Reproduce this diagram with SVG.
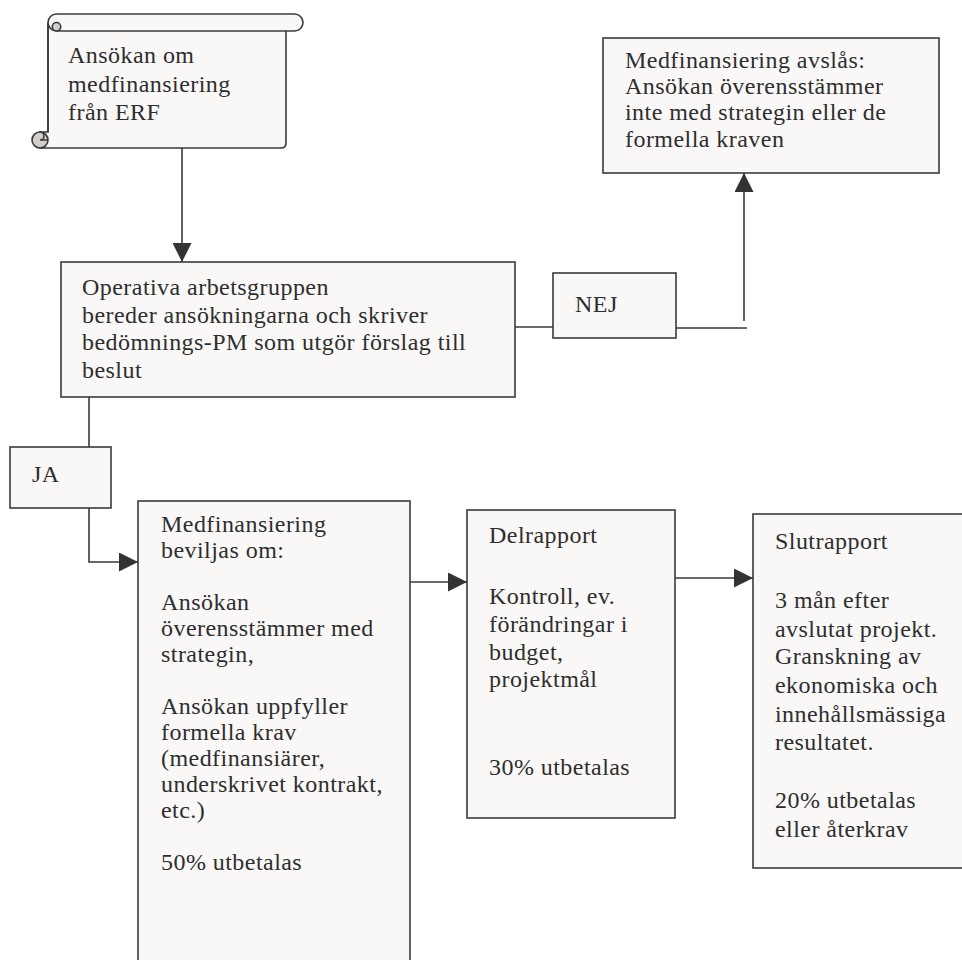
<svg xmlns="http://www.w3.org/2000/svg" width="962" height="960" viewBox="0 0 962 960">
<style>
.box{fill:#f9f8f7;stroke:#3a3a3a;stroke-width:1.6}
.curl{fill:#d3cfcb;stroke:#3a3a3a;stroke-width:1.6}
.ln{fill:none;stroke:#3a3a3a;stroke-width:1.6}
text{font-family:"Liberation Serif","Times New Roman",serif;font-size:24px;fill:#2e2e2e;letter-spacing:0.45px}
</style>
<defs>
<marker id="ah" viewBox="0 0 19 19" markerWidth="19" markerHeight="19" refX="19" refY="9.5" orient="auto" markerUnits="userSpaceOnUse">
<path d="M0,0 L19,9.5 L0,19 Z" fill="#333"/>
</marker>
</defs>
<rect width="962" height="960" fill="#fff"/>
<g id="connectors">
<line class="ln" x1="182" y1="148" x2="182" y2="262" marker-end="url(#ah)"/>
<line class="ln" x1="515" y1="327" x2="553" y2="327"/>
<line class="ln" x1="676" y1="328" x2="747" y2="328"/>
<line class="ln" x1="744" y1="321" x2="744" y2="173" marker-end="url(#ah)"/>
<line class="ln" x1="89" y1="397" x2="89" y2="447"/>
<polyline class="ln" points="89,508 89,562 138,562" marker-end="url(#ah)"/>
<line class="ln" x1="410" y1="582" x2="467" y2="582" marker-end="url(#ah)"/>
<line class="ln" x1="675" y1="578" x2="753" y2="578" marker-end="url(#ah)"/>
</g>
<g id="ansokan">
<path class="box" d="M48,25 L286,25 L286,143 Q286,148 281,148 L40,148 L40,132 L48,132 Z"/>
<circle class="curl" cx="40" cy="140" r="8"/>
<path class="ln" d="M40,132 A4,4 0 0 1 40,140 L48,140"/>
<rect class="box" x="48" y="14" width="255" height="17" rx="8.5"/>
<path class="curl" d="M56.5,22.5 A4.2,4.2 0 0 1 56.5,31 A4.2,4.2 0 0 1 56.5,22.5 Z"/>
<path class="ln" d="M48,22.5 L48,132"/>
<text x="68" y="63">Ansökan om</text>
<text x="68" y="91.5">medfinansiering</text>
<text x="68" y="120">från ERF</text>
</g>
<g id="operativa">
<rect class="box" x="61" y="262" width="454" height="135"/>
<text x="82" y="295">Operativa arbetsgruppen</text>
<text x="82" y="323">bereder ansökningarna och skriver</text>
<text x="82" y="350">bedömnings-PM som utgör förslag till</text>
<text x="82" y="378">beslut</text>
</g>
<g id="nej">
<rect class="box" x="553" y="273" width="123" height="65"/>
<text x="575" y="312">NEJ</text>
</g>
<g id="avslas">
<rect class="box" x="603" y="38" width="336" height="135"/>
<text x="625" y="68">Medfinansiering avslås:</text>
<text x="625" y="94">Ansökan överensstämmer</text>
<text x="625" y="120">inte med strategin eller de</text>
<text x="625" y="147">formella kraven</text>
</g>
<g id="ja">
<rect class="box" x="10" y="447" width="101" height="61"/>
<text x="32" y="482">JA</text>
</g>
<g id="beviljas">
<rect class="box" x="138" y="501" width="272" height="470"/>
<text x="161" y="532">Medfinansiering</text>
<text x="161" y="558">beviljas om:</text>
<text x="161" y="610">Ansökan</text>
<text x="161" y="636">överensstämmer med</text>
<text x="161" y="662">strategin,</text>
<text x="161" y="714">Ansökan uppfyller</text>
<text x="161" y="740">formella krav</text>
<text x="161" y="766">(medfinansiärer,</text>
<text x="161" y="792">underskrivet kontrakt,</text>
<text x="161" y="818">etc.)</text>
<text x="161" y="870">50% utbetalas</text>
</g>
<g id="delrapport">
<rect class="box" x="467" y="510" width="208" height="308"/>
<text x="489" y="543">Delrapport</text>
<text x="489" y="604">Kontroll, ev.</text>
<text x="489" y="632">förändringar i</text>
<text x="489" y="660">budget,</text>
<text x="489" y="687">projektmål</text>
<text x="489" y="775">30% utbetalas</text>
</g>
<g id="slutrapport">
<rect class="box" x="753" y="514" width="220" height="354"/>
<text x="775" y="549">Slutrapport</text>
<text x="775" y="608">3 mån efter</text>
<text x="775" y="637">avslutat projekt.</text>
<text x="775" y="664">Granskning av</text>
<text x="775" y="693">ekonomiska och</text>
<text x="775" y="722">innehållsmässiga</text>
<text x="775" y="750">resultatet.</text>
<text x="775" y="808">20% utbetalas</text>
<text x="775" y="837">eller återkrav</text>
</g>
</svg>
